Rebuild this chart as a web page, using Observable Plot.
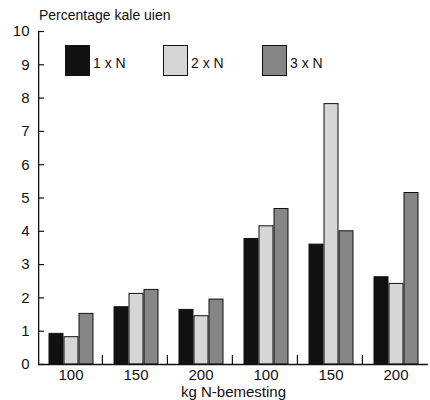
<!DOCTYPE html>
<html>
<head>
<meta charset="utf-8">
<script src="https://cdn.jsdelivr.net/npm/d3@7"></script>
<script src="https://cdn.jsdelivr.net/npm/@observablehq/plot@0.6"></script>
<style>
  body { margin: 0; background: #fff; }
  #wrap { position: relative; width: 430px; height: 400px; font-family: "Liberation Sans", Arial, sans-serif; color: #111; }
  #title { position: absolute; left: 39px; top: 7px; font-size: 14px; }
  .sw { position: absolute; top: 45px; width: 23px; height: 29px; border: 1px solid #111; }
  .lab { position: absolute; top: 55px; font-size: 14px; }
</style>
</head>
<body>
<div id="wrap">
  <div id="chart"></div>
  <div id="title">Percentage kale uien</div>
  <div id="legend"></div>
</div>
<script>
const groupLabels = ["100", "150", "200", "100", "150", "200"];
const seriesNames = ["1 x N", "2 x N", "3 x N"];
const seriesColors = ["#111111", "#d6d6d6", "#868686"];
const values1xN = [0.92, 1.72, 1.64, 3.77, 3.60, 2.62];
const values2xN = [0.82, 2.12, 1.45, 4.15, 7.82, 2.42];
const values3xN = [1.52, 2.24, 1.95, 4.67, 4.00, 5.15];
const yTicks = [0, 1, 2, 3, 4, 5, 6, 7, 8, 9, 10];

const seriesValues = [values1xN, values2xN, values3xN];
const data = [];
groupLabels.forEach((g, i) => {
  seriesNames.forEach((s, j) => {
    data.push({group: i, series: s, value: seriesValues[j][i]});
  });
});
const groupIdx = groupLabels.map((_, i) => i);

const chart = Plot.plot({
  width: 430,
  height: 400,
  marginLeft: 38,
  marginRight: 2,
  marginTop: 31,
  marginBottom: 36,
  style: {fontFamily: "Liberation Sans, Arial, sans-serif", fontSize: "15px", color: "#111", background: "#fff"},
  fx: {domain: groupIdx, tickFormat: i => groupLabels[i], paddingInner: 0, paddingOuter: 0,
       axis: "bottom", tickSize: 0, tickPadding: 5, label: "kg N-bemesting", labelAnchor: "center", labelOffset: 32},
  x: {domain: seriesNames, paddingInner: 0.1, paddingOuter: 0.65, axis: null},
  y: {domain: [0, 10], ticks: yTicks, tickSize: 0, tickPadding: 9, label: null},
  color: {domain: seriesNames, range: seriesColors},
  marks: [
    Plot.barY(data, {fx: "group", x: "series", y: "value", fill: "series", stroke: "#111", strokeWidth: 1}),
    Plot.ruleY([0], {stroke: "#111", strokeWidth: 1.3}),
    // vertical axis line (left edge of first facet)
    Plot.barY([0], {fx: () => 0, y1: 0, y2: 10, insetRight: 63.7, fill: "#111"}),
    // inward y ticks
    Plot.tickY(yTicks, {fx: () => 0, y: d => d, insetRight: 59, stroke: "#111", strokeWidth: 1.2}),
    // small separator ticks between groups
    Plot.barY(groupIdx.slice(0, 5), {fx: d => d, y1: 0, y2: 0.27, insetLeft: 63.8, fill: "#111"})
  ]
});
document.getElementById("chart").appendChild(chart);

const legend = document.getElementById("legend");
const swLeft = [65, 163, 262];
seriesNames.forEach((s, j) => {
  const sw = document.createElement("div");
  sw.className = "sw";
  sw.style.left = swLeft[j] + "px";
  sw.style.background = seriesColors[j];
  legend.appendChild(sw);
  const lb = document.createElement("div");
  lb.className = "lab";
  lb.style.left = (swLeft[j] + 28) + "px";
  lb.textContent = s;
  legend.appendChild(lb);
});
</script>
</body>
</html>
